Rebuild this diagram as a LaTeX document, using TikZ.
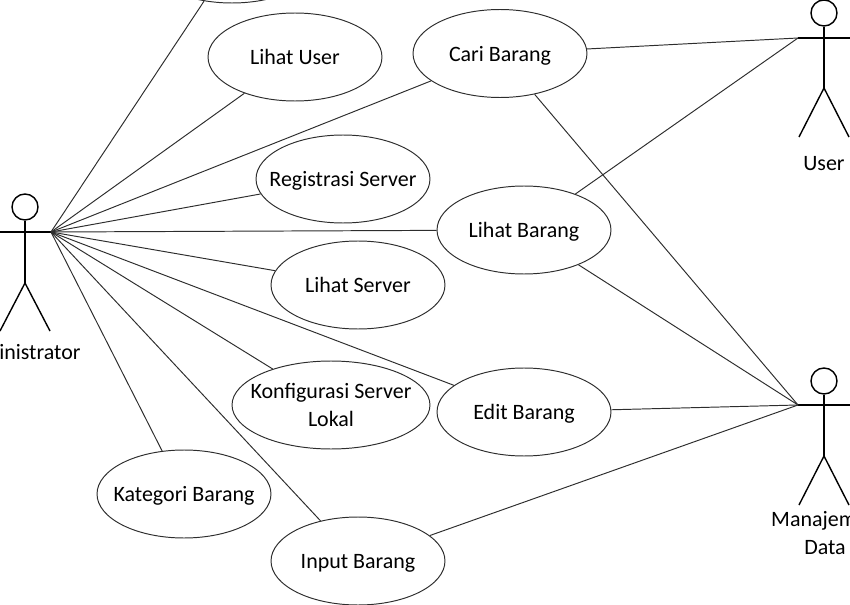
\documentclass[tikz,border=0pt]{standalone}
\usepackage{fontspec}
\setmainfont{Carlito}
\usetikzlibrary{shapes.geometric}
\definecolor{Garis}{RGB}{45,45,45}
\tikzset{
  usecase/.style={draw=Garis,ellipse,line width=0.55pt,minimum width=3.48cm,minimum height=1.76cm,inner xsep=-0.5cm,inner ysep=0pt,text depth=0pt,align=center,text=black,font=\fontsize{12.5}{15.5}\selectfont},
  link/.style={draw=Garis,line width=0.55pt},
  actorhead/.style={draw=black,circle,line width=0.8pt,minimum size=0.52cm,inner sep=0pt},
  actorline/.style={draw=black,line width=0.8pt},
  actorlabel/.style={align=center,text=black,inner sep=0pt,font=\fontsize{12.5}{15.5}\selectfont}
}
\begin{document}
\begin{tikzpicture}[x=0.02cm,y=-0.02cm]
\useasboundingbox (0,0) rectangle (850,605);
\clip (0,0) rectangle (850,605);
% use cases
\node[usecase] (top)      at (232,-41) {};
\node[usecase] (lihatuser) at (295,57)  {Lihat User};
\node[usecase] (cari)     at (500,53.5)  {Cari Barang};
\node[usecase] (regserver) at (343,179) {Registrasi Server};
\node[usecase] (lihatbrg) at (524,230) {Lihat Barang};
\node[usecase] (lihatserver) at (358,285) {Lihat Server};
\node[usecase,minimum width=3.96cm] (konfig) at (331,405) {Konfigurasi Server\\Lokal};
\node[usecase] (edit)     at (524,412) {Edit Barang};
\node[usecase] (kategori) at (184,494) {Kategori Barang};
\node[usecase] (input)    at (358,561) {Input Barang};
%
% actors
\coordinate (admin) at (51,232);
\coordinate (user) at (798,38);
\coordinate (manajemen) at (798,405);
\node[actorhead] (adminhead) at (25,207) {};
\coordinate (adminhip) at (25,283);
\coordinate (adminleft) at (0,331);
\coordinate (adminright) at (50,331);
\coordinate (adminarm) at (-2,232);
\draw[actorline] (adminhead) -- (adminhip);
\draw[actorline] (adminarm) -- (admin);
\draw[actorline] (adminleft) -- (adminhip) -- (adminright);
\node[actorlabel] (adminlabel) at (19,352) {Administrator};
%
\node[actorhead] (userhead) at (824,13) {};
\coordinate (userhip) at (824,88);
\coordinate (userleft) at (799,137);
\coordinate (userright) at (849,137);
\coordinate (userarm) at (850,38);
\draw[actorline] (userhead) -- (userhip);
\draw[actorline] (user) -- (userarm);
\draw[actorline] (userleft) -- (userhip) -- (userright);
\node[actorlabel] (userlabel) at (824,164) {User};
%
\node[actorhead] (manhead) at (824,381) {};
\coordinate (manhip) at (824,456);
\coordinate (manleft) at (799,505);
\coordinate (manright) at (849,505);
\coordinate (manarm) at (850,405);
\draw[actorline] (manhead) -- (manhip);
\draw[actorline] (manajemen) -- (manarm);
\draw[actorline] (manleft) -- (manhip) -- (manright);
\node[actorlabel] (manlabel) at (825,533) {Manajemen\\Data};
%
% connectors
\draw[link] (admin) -- (top);
\draw[link] (admin) -- (lihatuser);
\draw[link] (admin) -- (cari);
\draw[link] (admin) -- (regserver);
\draw[link] (admin) -- (lihatbrg);
\draw[link] (admin) -- (lihatserver);
\draw[link] (admin) -- (edit);
\draw[link] (admin) -- (konfig);
\draw[link] (admin) -- (kategori);
\draw[link] (admin) -- (input);
\draw[link] (cari) -- (user);
\draw[link] (lihatbrg) -- (user);
\draw[link] (cari) -- (manajemen);
\draw[link] (lihatbrg) -- (manajemen);
\draw[link] (edit) -- (manajemen);
\draw[link] (input) -- (manajemen);
\end{tikzpicture}
\end{document}
